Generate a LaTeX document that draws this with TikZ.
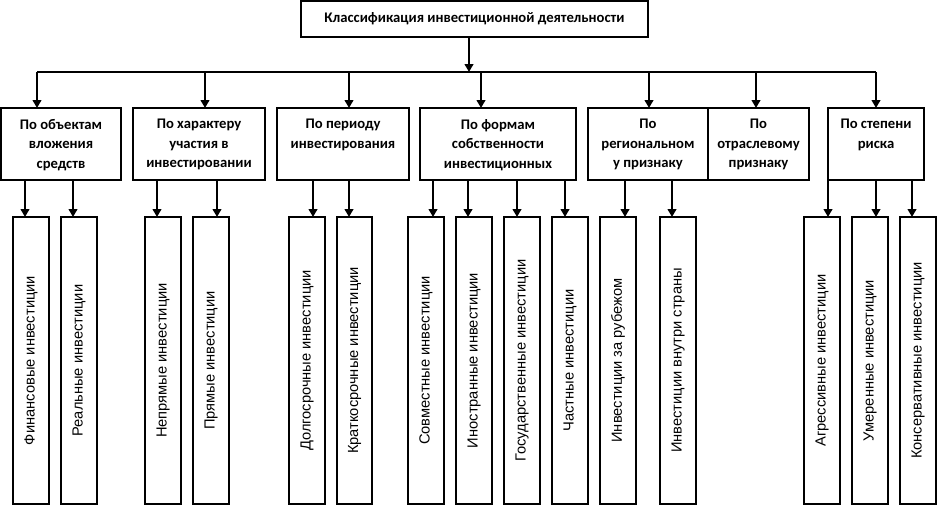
\documentclass[tikz,border=0pt]{standalone}
\usepackage{fontspec}
\setmainfont{Carlito}
\newfontfamily\leaffont{Liberation Sans}
\usetikzlibrary{arrows.meta,calc}
\newcommand\catbox[5]{%
  \node[box, minimum width={(#3-#2)*0.75pt}, minimum height={72*0.75pt}] (#1) at (#2,108) {};
  \node[cattext] (#1t) at ($(#1.north)+(0,11)$) {#5};
  \coordinate (#1a) at (#4,72);
  \draw[arr] (#1a) -- (#1.north -| #1a);
}
\newcommand\lf[6]{%
  \node[box, minimum width={(#3-#2)*0.75pt}, minimum height={287*0.75pt}] (#1) at (#2,217) {\rotatebox{90}{\leaffont\fontsize{11}{13}\selectfont #6}};
  \coordinate (#1a) at (#4,0);
  \draw[arr] (#5.south -| #1a) -- (#1.north -| #1a);
}
\begin{document}
\begin{tikzpicture}[x=0.75pt,y=-0.75pt,
  box/.style={draw, line width=0.9pt, inner sep=0pt, outer sep=0pt, anchor=north west},
  cattext/.style={anchor=north, align=center, inner sep=0pt, font=\fontsize{11}{14.6}\selectfont\bfseries},
  arr/.style={line width=1.6pt, -{Triangle[length=6pt,width=6.5pt]}},
  bus/.style={line width=1.3pt}]
\useasboundingbox (0,0) rectangle (939,518);
\node[box, minimum width={347*0.75pt}, minimum height={36*0.75pt}, font=\fontsize{11}{13}\selectfont\bfseries] (top) at (301,1) {\raisebox{3pt}{Классификация инвестиционной деятельности}};
\coordinate (busm) at (469,72);
\coordinate (busl) at (37,72);
\coordinate (busr) at (876,72);
\draw[arr] (top.south -| busm) -- (busm);
\draw[bus] (busl) -- (busr);
\catbox{c1}{1}{121}{37}{По объектам\\вложения\\средств}
\catbox{c2}{133}{265}{205}{По характеру\\участия в\\инвестировании}
\catbox{c3}{277}{409}{349}{По периоду\\инвестирования}
\catbox{c4}{420}{576}{481}{По формам\\собственности\\инвестиционных}
\catbox{c5}{588}{708}{649}{По\\региональном\\у признаку}
\catbox{c6}{708}{809}{756}{По\\отраслевому\\признаку}
\catbox{c7}{828}{924}{876}{По степени\\риска}
\lf{l1}{13}{49}{25}{c1}{Финансовые инвестиции}
\lf{l2}{61}{97}{73}{c1}{Реальные инвестиции}
\lf{l3}{145}{181}{157}{c2}{Непрямые инвестиции}
\lf{l4}{193}{229}{217}{c2}{Прямые инвестиции}
\lf{l5}{289}{325}{313}{c3}{Долгосрочные инвестиции}
\lf{l6}{337}{372}{349}{c3}{Краткосрочные инвестиции}
\lf{l7}{408}{444}{433}{c4}{Совместные инвестиции}
\lf{l8}{456}{492}{468}{c4}{Иностранные инвестиции}
\lf{l9}{504}{540}{517}{c4}{Государственные инвестиции}
\lf{l10}{552}{588}{565}{c4}{Частные инвестиции}
\lf{l11}{600}{636}{625}{c5}{Инвестиции за рубежом}
\lf{l12}{660}{696}{672}{c5}{Инвестиции внутри страны}
\lf{l13}{804}{840}{828}{c7}{Агрессивные инвестиции}
\lf{l14}{852}{888}{876}{c7}{Умеренные инвестиции}
\lf{l15}{900}{936}{912}{c7}{Консервативные инвестиции}
\end{tikzpicture}
\end{document}
